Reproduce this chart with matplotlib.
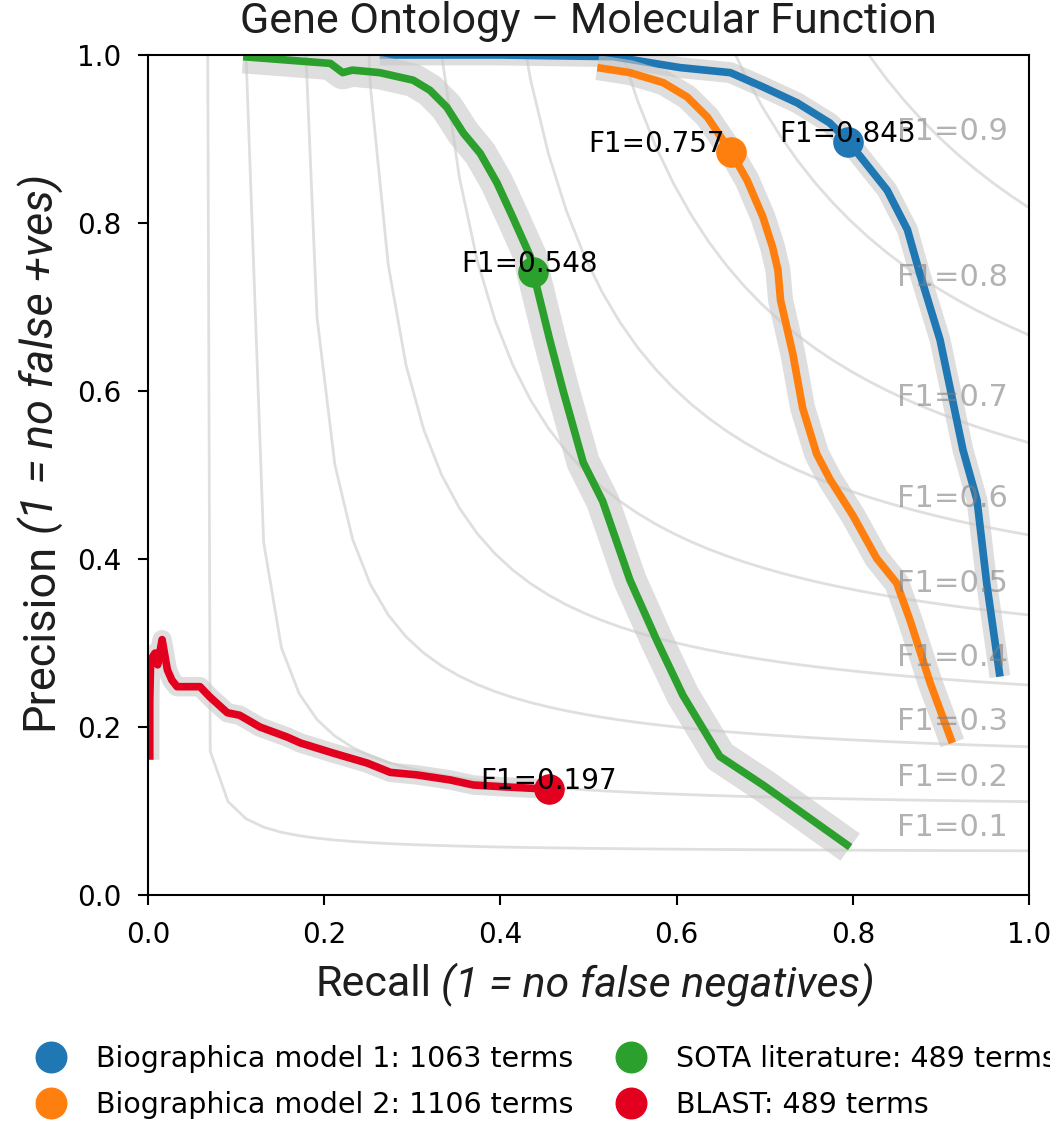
import numpy as np
import matplotlib
matplotlib.use("Agg")
import matplotlib.pyplot as plt
from matplotlib.lines import Line2D

# precision / recall points
bio1_recall = [0.263, 0.400, 0.528, 0.604, 0.661, 0.698, 0.737, 0.774, 0.795, 0.839,
               0.862, 0.876, 0.899, 0.925, 0.941, 0.952, 0.967]
bio1_precision = [1.000, 1.000, 0.998, 0.985, 0.979, 0.962, 0.943, 0.919, 0.897, 0.839,
                  0.792, 0.740, 0.661, 0.530, 0.470, 0.371, 0.260]

bio2_recall = [0.510, 0.547, 0.585, 0.612, 0.635, 0.662, 0.680, 0.698, 0.709, 0.715,
               0.718, 0.732, 0.743, 0.759, 0.774, 0.800, 0.827, 0.850, 0.865, 0.888, 0.913]
bio2_precision = [0.985, 0.979, 0.967, 0.950, 0.926, 0.884, 0.851, 0.807, 0.771, 0.744,
                  0.708, 0.644, 0.580, 0.525, 0.495, 0.452, 0.401, 0.371, 0.327, 0.252, 0.181]

sota_recall = [0.108, 0.207, 0.221, 0.232, 0.263, 0.301, 0.320, 0.339, 0.358, 0.377,
               0.396, 0.414, 0.434, 0.437, 0.445, 0.456, 0.471, 0.494, 0.516, 0.547,
               0.578, 0.607, 0.649, 0.698, 0.797]
sota_precision = [0.998, 0.990, 0.979, 0.982, 0.979, 0.970, 0.958, 0.938, 0.907, 0.883,
                  0.848, 0.807, 0.760, 0.742, 0.708, 0.661, 0.601, 0.515, 0.469, 0.375,
                  0.302, 0.238, 0.165, 0.131, 0.057]

blast_recall = [0.002, 0.002, 0.003, 0.008, 0.011, 0.016, 0.022, 0.027, 0.033, 0.044,
                0.059, 0.070, 0.090, 0.104, 0.127, 0.158, 0.173, 0.210, 0.249, 0.275,
                0.305, 0.343, 0.369, 0.400, 0.455]
blast_precision = [0.161, 0.232, 0.280, 0.288, 0.274, 0.304, 0.268, 0.256, 0.248, 0.248,
                   0.248, 0.236, 0.217, 0.214, 0.200, 0.188, 0.181, 0.169, 0.157, 0.146,
                   0.143, 0.137, 0.131, 0.129, 0.126]

series_names = ["Biographica model 1: 1063 terms", "Biographica model 2: 1106 terms",
                "SOTA literature: 489 terms", "BLAST: 489 terms"]
series_colors = ["#1f77b4", "#ff7f0e", "#2ca02c", "#e3001f"]

# best F1 point of each curve
best_recall = [0.795, 0.662, 0.437, 0.455]
best_precision = [0.897, 0.884, 0.742, 0.126]
best_f1 = [0.843, 0.757, 0.548, 0.197]

f_scores = [0.1, 0.2, 0.3, 0.4, 0.5, 0.6, 0.7, 0.8, 0.9]

W, H = 1050, 1124
fig = plt.figure(figsize=(W / 100, H / 100), dpi=100)
ax = fig.add_axes([148 / W, 1 - 895 / H, (1029 - 148) / W, (895 - 55) / H])

# iso-F1 curves
for f in f_scores:
    x = np.linspace(0.01, 1)
    y = f * x / (2 * x - f)
    ax.plot(x[y >= 0], y[y >= 0], color="gray", alpha=0.25, lw=2)
    ax.annotate("F1={0:0.1f}".format(f), xy=(0.85, y[45] + 0.017),
                color="gray", alpha=0.6, fontsize=22)

curves = [(bio1_recall, bio1_precision), (bio2_recall, bio2_precision),
          (sota_recall, sota_precision), (blast_recall, blast_precision)]
band_widths = [15, 18, 24, 14]
text_dx = [-0.078, -0.162, -0.082, -0.078]

for (r, p), col, bw in zip(curves, series_colors, band_widths):
    ax.plot(r, p, color="#c8c8c8", alpha=0.6, lw=bw, solid_capstyle="butt",
            solid_joinstyle="round")
    ax.plot(r, p, color=col, lw=5.5, solid_capstyle="butt")

for r, p, f, col, dx in zip(best_recall, best_precision, best_f1, series_colors, text_dx):
    ax.plot(r, p, "o", color=col, ms=21, zorder=5)
    ax.annotate("F1={0:0.3f}".format(f), xy=(r + dx, p), fontsize=20,
                color="black", zorder=6)

ax.set_xlim(0, 1)
ax.set_ylim(0, 1)
ax.set_xticks([0, 0.2, 0.4, 0.6, 0.8, 1.0])
ax.set_yticks([0, 0.2, 0.4, 0.6, 0.8, 1.0])
ax.tick_params(labelsize=20, length=7, width=1.5, pad=12)
for s in ax.spines.values():
    s.set_linewidth(1.5)

# title and two-style axis labels
label_font = "Roboto"
fig.text(588 / W, 1 - 22 / H, "Gene Ontology \u2013 Molecular Function",
         ha="center", va="center", fontsize=31, family=label_font, color="#1e1e1e")

fig.canvas.draw()
rend = fig.canvas.get_renderer()


def two_part(first, second, cx, cy, vertical, size):
    rot = 90 if vertical else 0
    t1 = fig.text(0, 0, first, fontsize=size, family=label_font, rotation=rot,
                  ha="left" if not vertical else "center",
                  va="center" if not vertical else "bottom", color="#1e1e1e")
    t2 = fig.text(0, 0, second, fontsize=size, family=label_font, style="italic",
                  rotation=rot, ha="left" if not vertical else "center",
                  va="center" if not vertical else "bottom", color="#1e1e1e")
    e1 = t1.get_window_extent(rend)
    e2 = t2.get_window_extent(rend)
    gap = 9
    if not vertical:
        total = e1.width + gap + e2.width
        x0 = cx - total / 2
        t1.set_position((x0 / W, 1 - cy / H))
        t2.set_position(((x0 + e1.width + gap) / W, 1 - cy / H))
    else:
        total = e1.height + gap + e2.height
        y0 = (H - cy) - total / 2
        t1.set_position((cx / W, y0 / H))
        t2.set_position((cx / W, (y0 + e1.height + gap) / H))


two_part("Recall", "(1 = no false negatives)", 595, 985, False, 31)
two_part("Precision", "(1 = no false +ves)", 40, 452, True, 32.5)

handles = [Line2D([], [], marker="o", ls="", color=c, ms=22) for c in series_colors]
fig.legend(handles, series_names, loc="upper left", bbox_to_anchor=(23 / W, 1 - 1045 / H),
           ncol=2, frameon=False, fontsize=20.5, handletextpad=0.58, columnspacing=1.0,
           labelspacing=0.64, borderaxespad=0, borderpad=0)

fig.savefig("out.png", dpi=100)
